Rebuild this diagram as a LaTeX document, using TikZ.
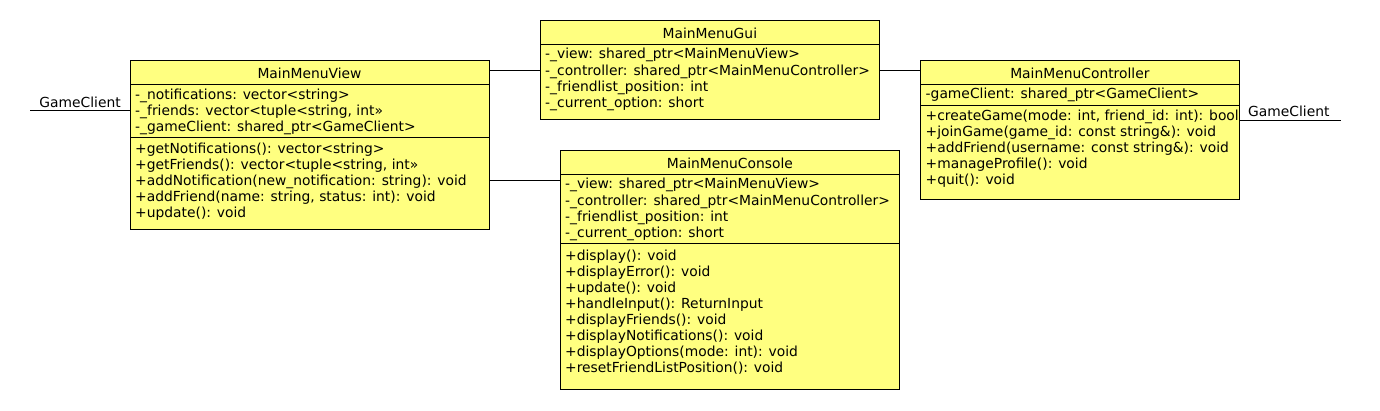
\documentclass[tikz,border=0pt]{standalone}
\usepackage{fontspec}
\setmainfont{DejaVu Sans}
\definecolor{umlfill}{RGB}{255,255,128}
\tikzset{
  cls/.style={draw=black, fill=umlfill, line width=1pt, inner sep=0pt, outer sep=0pt, anchor=north west},
  umltxt/.style={inner sep=0pt, anchor=base west, font=\fontsize{13.85}{16}\selectfont, text=black},
  umltitle/.style={umltxt, anchor=base},
  rulesep/.style={line width=1pt},
  assoc/.style={line width=1pt}
}
\begin{document}
\begin{tikzpicture}[x=1pt,y=-1pt]
\fill[white] (0,0) rectangle (1380,410);
\useasboundingbox (0,0) rectangle (1380,410);

% ---------- MainMenuView ----------
\node[cls, minimum width=359pt, minimum height=169pt] (view) at (130,60) {};
\node[umltitle] (view-t) at ([yshift=-18.8pt]view.north) {MainMenuView};
\draw[rulesep] ([yshift=-24pt]view.north west) -- ([yshift=-24pt]view.north east);
\draw[rulesep] ([yshift=-77pt]view.north west) -- ([yshift=-77pt]view.north east);
\foreach \t [count=\i] in {{-\_notifications: vector<string>},{-\_friends: vector<tuple<string, int»},{-\_gameClient: shared\_ptr<GameClient>}}
  \node[umltxt] (view-a\i) at (135,{99.5+16.1*(\i-1)}) {\t};
\foreach \t [count=\i] in {{+getNotifications(): vector<string>},{+getFriends(): vector<tuple<string, int»},{+addNotification(new\_notification: string): void},{+addFriend(name: string, status: int): void},{+update(): void}}
  \node[umltxt] (view-m\i) at (135,{153.6+16.0*(\i-1)}) {\t};

% ---------- MainMenuGui ----------
\node[cls, minimum width=338.3pt, minimum height=98.3pt] (gui) at (540.7,20.7) {};
\node[umltitle] (gui-t) at ([yshift=-18pt]gui.north) {MainMenuGui};
\draw[rulesep] ([yshift=-23.3pt]gui.north west) -- ([yshift=-23.3pt]gui.north east);
\foreach \t [count=\i] in {{-\_view: shared\_ptr<MainMenuView>},{-\_controller: shared\_ptr<MainMenuController>},{-\_friendlist\_position: int},{-\_current\_option: short}}
  \node[umltxt] (gui-a\i) at (545,{58.8+16.2*(\i-1)}) {\t};

% ---------- MainMenuController ----------
\node[cls, minimum width=318.3pt, minimum height=138.3pt] (ctrl) at (920.7,60.7) {};
\node[umltitle] (ctrl-t) at ([yshift=-18pt]ctrl.north) {MainMenuController};
\draw[rulesep] ([yshift=-23.3pt]ctrl.north west) -- ([yshift=-23.3pt]ctrl.north east);
\draw[rulesep] ([yshift=-44.3pt]ctrl.north west) -- ([yshift=-44.3pt]ctrl.north east);
\node[umltxt] (ctrl-a1) at (925.5,98.8) {-gameClient: shared\_ptr<GameClient>};
\foreach \t [count=\i] in {{+createGame(mode: int, friend\_id: int): bool},{+joinGame(game\_id: const string\&): void},{+addFriend(username: const string\&): void},{+manageProfile(): void},{+quit(): void}}
  \node[umltxt] (ctrl-m\i) at (925.5,{120+16.2*(\i-1)}) {\t};

% ---------- MainMenuConsole ----------
\node[cls, minimum width=338.3pt, minimum height=238.3pt] (console) at (560.7,150.7) {};
\node[umltitle] (console-t) at ([yshift=-18pt]console.north) {MainMenuConsole};
\draw[rulesep] ([yshift=-23.3pt]console.north west) -- ([yshift=-23.3pt]console.north east);
\draw[rulesep] ([yshift=-92.3pt]console.north west) -- ([yshift=-92.3pt]console.north east);
\foreach \t [count=\i] in {{-\_view: shared\_ptr<MainMenuView>},{-\_controller: shared\_ptr<MainMenuController>},{-\_friendlist\_position: int},{-\_current\_option: short}}
  \node[umltxt] (console-a\i) at (565,{188.8+16.2*(\i-1)}) {\t};
\foreach \t [count=\i] in {{+display(): void},{+displayError(): void},{+update(): void},{+handleInput(): ReturnInput},{+displayFriends(): void},{+displayNotifications(): void},{+displayOptions(mode: int): void},{+resetFriendListPosition(): void}}
  \node[umltxt] (console-m\i) at (565,{260+16.0*(\i-1)}) {\t};

% ---------- connectors ----------
\coordinate (vg) at ([yshift=-10pt]view.north east);
\draw[assoc] (vg) -- (vg -| gui.west);
\coordinate (gc) at ([yshift=-50pt]gui.north east);
\draw[assoc] (gc) -- (gc -| ctrl.west);
\coordinate (vc) at ([yshift=-30pt]console.north west);
\draw[assoc] (vc -| view.east) -- (vc);

\coordinate (gcl) at (30,110.7);
\draw[assoc] (gcl) -- (gcl -| view.west);
\node[umltxt, anchor=base east] (gcl-t) at (121,107) {GameClient};

\coordinate (gcr) at (1341,120);
\draw[assoc] (gcr -| ctrl.east) -- (gcr);
\node[umltxt] (gcr-t) at (1248,116.7) {GameClient};
\end{tikzpicture}
\end{document}
